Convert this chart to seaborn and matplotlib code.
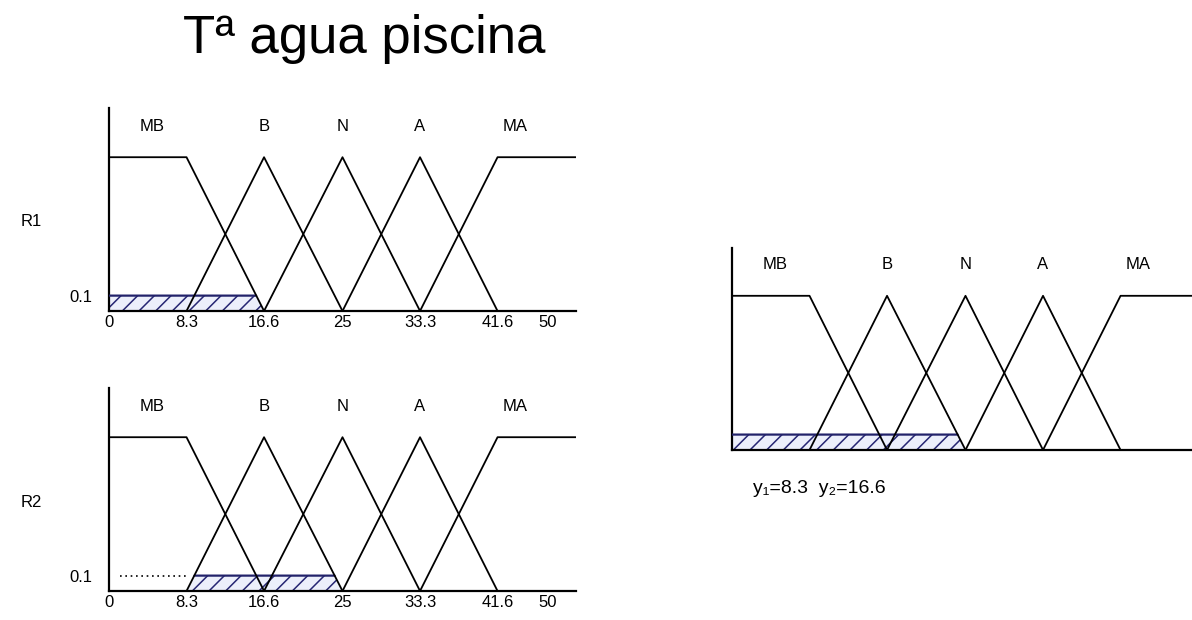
import numpy as np
import matplotlib
matplotlib.use("Agg")
import matplotlib.pyplot as plt
import matplotlib.transforms as mtrans
import seaborn as sns

sns.set_style("white")
plt.rcParams['font.family'] = ['Liberation Sans', 'DejaVu Sans']
plt.rcParams['hatch.linewidth'] = 1.1
plt.rcParams['text.color'] = 'black'
plt.rcParams['xtick.color'] = 'black'
plt.rcParams['ytick.color'] = 'black'

# fuzzy sets of the pool water temperature (breakpoints, membership)
set_names = ["MB", "B", "N", "A", "MA"]
set_x = [[0, 8.3, 16.6], [8.3, 16.6, 25], [16.6, 25, 33.3],
         [25, 33.3, 41.6], [33.3, 41.6, 50]]
set_y = [[1, 1, 0], [0, 1, 0], [0, 1, 0], [0, 1, 0], [0, 1, 1]]
label_x = [4.6, 16.6, 25, 33.3, 43.5]

tick_pos = [0, 8.3, 16.6, 25, 33.3, 41.6, 50]
tick_lbl = ["0", "8.3", "16.6", "25", "33.3", "41.6", "50"]

# rule firing: R1 -> MB at 0.1, R2 -> B at 0.1
rule_names = ["R1", "R2"]
rule_set = [0, 1]
rule_level = [0.1, 0.1]
dotted_x = [1.2, 8.3]

result_text = "y\u2081=8.3  y\u2082=16.6"

W, H = 1192, 620
fig = plt.figure(figsize=(W / 100, H / 100), dpi=100)
grid = np.linspace(0, 50, 2001)


def mu(i):
    return np.interp(grid, set_x[i], set_y[i])


def draw_sets(ax, ytop):
    for i, name in enumerate(set_names):
        sns.lineplot(x=set_x[i], y=set_y[i], color="black", lw=1.3, ax=ax,
                     sort=False, estimator=None, zorder=4)
        ax.text(label_x[i], 1.2, name, ha="center", va="center", fontsize=12)
    ax.set_xlim(0, 50)
    ax.set_ylim(0, ytop)
    for s in ["top", "right"]:
        ax.spines[s].set_visible(False)
    for s in ["left", "bottom"]:
        ax.spines[s].set_color("black")
        ax.spines[s].set_linewidth(1.6)
    ax.tick_params(length=0)
    ax.set_xlabel("")
    ax.set_ylabel("")


def draw_hatch(ax, clipped):
    ax.fill_between(grid, 0, clipped, where=clipped > 0, facecolor="#eceffb",
                    edgecolor="#262673", hatch="//", linewidth=0, zorder=2)
    top = np.where(clipped >= max(clipped.max() - 1e-9, 1e-9), clipped, np.nan)
    ax.plot(grid, top, color="#22226a", lw=1.6, zorder=3)


# left column: the two rules
bottoms = [1 - 311 / H, 1 - 591 / H]
rule_y = [0.642, 0.19]
clips = []
for r in range(2):
    ax = fig.add_axes([109 / W, bottoms[r], 467 / W, 203 / H])
    draw_sets(ax, 1.32)
    clipped = np.minimum(mu(rule_set[r]), rule_level[r])
    clips.append(clipped)
    draw_hatch(ax, clipped)
    if r == 1:
        ax.plot(dotted_x, [rule_level[r]] * 2, color="black", ls=(0, (1, 2.2)), lw=1.2)
    ax.set_xticks(tick_pos)
    ax.set_xticklabels(tick_lbl, fontsize=12)
    ax.set_yticks([rule_level[r]])
    ax.set_yticklabels([str(rule_level[r])], fontsize=12)
    ax.tick_params(axis="x", pad=3)
    ax.tick_params(axis="y", pad=12)
    last = ax.get_xticklabels()[-1]
    last.set_transform(last.get_transform() +
                       mtrans.ScaledTranslation(-0.28, 0, fig.dpi_scale_trans))
    fig.text(0.026, rule_y[r], rule_names[r], ha="center", va="center", fontsize=12)

# right: aggregated output
ax = fig.add_axes([732 / W, 1 - 450 / H, 467 / W, 202 / H])
draw_sets(ax, 1.31)
draw_hatch(ax, np.maximum(clips[0], clips[1]))
ax.set_xticks([])
ax.set_yticks([])
fig.text(753 / W, 1 - 493 / H, result_text, ha="left", va="baseline", fontsize=14)

fig.text(183 / W, 1 - 53 / H, "T\u00aa agua piscina", ha="left", va="baseline",
         fontsize=38)

fig.savefig("out.png", dpi=100)
